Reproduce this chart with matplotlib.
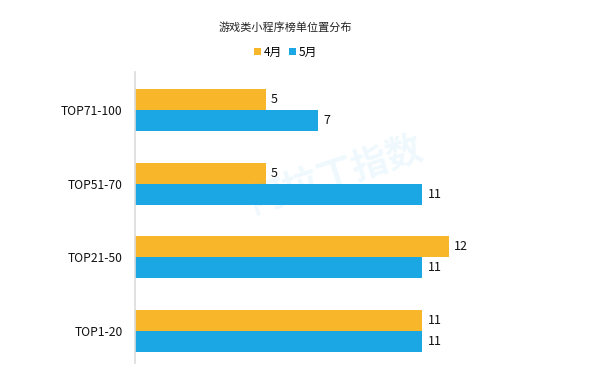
import numpy as np
import matplotlib
matplotlib.use("Agg")
import matplotlib.pyplot as plt

plt.rcParams['font.family'] = ['Noto Sans CJK SC', 'DejaVu Sans']

# data (bottom to top)
categories = ["TOP1-20", "TOP21-50", "TOP51-70", "TOP71-100"]
april = [11, 12, 5, 5]
may = [11, 11, 11, 7]
series_names = ["4月", "5月"]
title = "游戏类小程序榜单位置分布"

c_apr = "#F8B62B"
c_may = "#1AA7E4"

fig = plt.figure(figsize=(6, 3.72), dpi=100)
ax = fig.add_axes([0.225, 0.0242, 0.675, 0.782])

y = np.arange(len(categories))
h = 0.285
b1 = ax.barh(y + h / 2, april, height=h, color=c_apr, label=series_names[0])
b2 = ax.barh(y - h / 2, may, height=h, color=c_may, label=series_names[1])

for bars in (b1, b2):
    for rect in bars:
        w = rect.get_width()
        ax.text(w + 0.2, rect.get_y() + rect.get_height() / 2, f"{w:g}",
                va="center", ha="left", fontsize=9, color="#111111")

ax.set_xlim(0, 15.5)
ax.set_ylim(-0.434, 3.516)
ax.set_yticks(y)
ax.set_yticklabels(categories, fontsize=8.7, color="#111111")
ax.tick_params(axis="y", length=0, pad=9)
ax.set_xticks([])
for side in ("top", "right", "bottom"):
    ax.spines[side].set_visible(False)
ax.spines["left"].set_color("#dcdcdc")
ax.spines["left"].set_linewidth(1.2)

# faint watermark
fig.text(0.56, 0.53, "阿拉丁指数", fontsize=26, color=c_may, alpha=0.07,
         rotation=18, ha="center", va="center", fontweight="bold")

fig.text(0.475, 0.927, title, ha="center", va="center", fontsize=8, color="#222222")
fig.legend(handles=[b1, b2], labels=series_names, loc="center",
           bbox_to_anchor=(0.476, 0.86), ncol=2, frameon=False, fontsize=8.5,
           handlelength=0.55, handleheight=0.55, handletextpad=0.25, columnspacing=0.6)

fig.savefig("out.png", dpi=100, facecolor="white")
